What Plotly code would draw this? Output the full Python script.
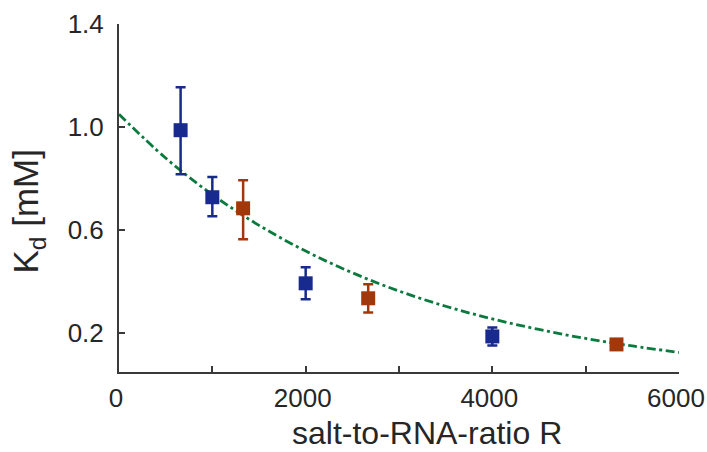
import plotly.graph_objects as go

# Blue series
blue_x = [660, 1000, 2000, 4000]
blue_y = [0.988, 0.728, 0.394, 0.188]
blue_err_plus = [0.167, 0.078, 0.062, 0.035]
blue_err_minus = [0.171, 0.074, 0.062, 0.035]

# Orange series
orange_x = [1330, 2670, 5330]
orange_y = [0.685, 0.336, 0.157]
orange_err_plus = [0.109, 0.054, 0.004]
orange_err_minus = [0.120, 0.055, 0.004]

# Fit curve
fit_x = [0, 500, 1000, 1500, 2000, 2500, 3000, 3500, 4000, 4500, 5000, 5500, 6000]
fit_y = [1.05, 0.880, 0.738, 0.619, 0.519, 0.435, 0.364, 0.305, 0.256, 0.215, 0.180, 0.151, 0.126]

x_ticks = [0, 2000, 4000, 6000]
x_minor_ticks = [1000, 3000, 5000]
y_ticks = [0.2, 0.6, 1.0, 1.4]
y_tick_text = ["0.2", "0.6", "1.0", "1.4"]

x_title = "salt-to-RNA-ratio R"
y_title = "K<sub>d</sub> [mM]"

BLUE = "#182a8e"
ORANGE = "#a2380a"
GREEN = "#0b7a3f"
TEXT = "#262626"
AXIS = "#3a3a3a"

fig = go.Figure()
fig.add_trace(go.Scatter(
    x=fit_x, y=fit_y, mode="lines", line=dict(color=GREEN, width=2.8, dash="9px,3.5px,3px,3.5px", shape="spline"),
    showlegend=False, hoverinfo="skip"))
fig.add_trace(go.Scatter(
    x=blue_x, y=blue_y, mode="markers",
    marker=dict(symbol="square", size=14, color=BLUE),
    error_y=dict(type="data", array=blue_err_plus, arrayminus=blue_err_minus, color=BLUE, thickness=2.5, width=5),
    showlegend=False))
fig.add_trace(go.Scatter(
    x=orange_x, y=orange_y, mode="markers",
    marker=dict(symbol="square", size=14, color=ORANGE),
    error_y=dict(type="data", array=orange_err_plus, arrayminus=orange_err_minus, color=ORANGE, thickness=2.5, width=5),
    showlegend=False))

FAM = "Liberation Sans, Arial, sans-serif"
tick_font = dict(family=FAM, size=26, color=TEXT)
fig.update_layout(
    width=707, height=452,
    margin=dict(l=119, r=28, t=24, b=80),
    plot_bgcolor="white", paper_bgcolor="white",
    font=dict(family=FAM, size=26, color=TEXT),
    xaxis=dict(range=[0, 6000], tickvals=x_ticks, ticks="inside", ticklen=6, tickwidth=1.5,
               tickcolor=AXIS, showline=True, linecolor=AXIS, linewidth=2, showgrid=False, zeroline=False,
               automargin=False, ticklabelstandoff=2, ticklabeloverflow="allow", ticklabelshift=-3,
               minor=dict(tickvals=x_minor_ticks, ticks="inside", ticklen=6, tickwidth=1.5, tickcolor=AXIS,
                          showgrid=False),
               tickfont=tick_font),
    yaxis=dict(range=[0.05, 1.4], tickvals=y_ticks, ticktext=y_tick_text, ticks="inside", ticklen=6, tickwidth=1.5,
               tickcolor=AXIS, showline=True, linecolor=AXIS, linewidth=2, showgrid=False, zeroline=False,
               automargin=False, ticklabelstandoff=8, ticklabeloverflow="allow",
               tickfont=tick_font),
    annotations=[
        dict(text=x_title, xref="paper", yref="paper", x=0.55, y=-0.175, xanchor="center", yanchor="middle",
             showarrow=False, font=dict(family=FAM, size=32, color=TEXT)),
        dict(text=y_title, xref="paper", yref="paper", x=-0.1625, y=0.461, xanchor="center", yanchor="middle",
             textangle=-90, showarrow=False, font=dict(family=FAM, size=35, color=TEXT)),
    ],
)
fig.write_html("out.html", config={"displayModeBar": False},
               post_script="document.body.style.margin='0';document.body.style.overflow='hidden';")
